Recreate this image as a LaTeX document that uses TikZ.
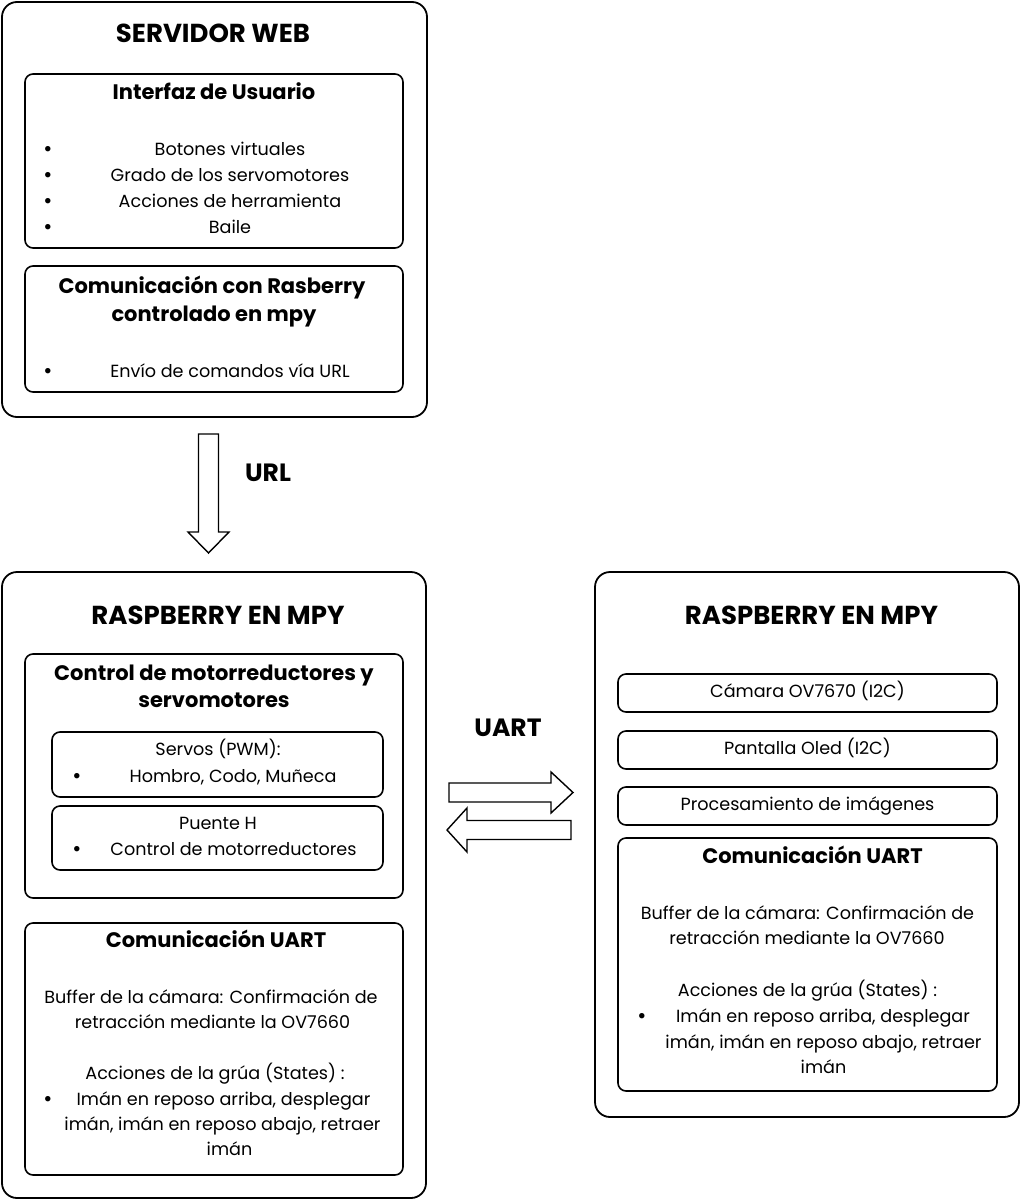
\documentclass[tikz,border=0pt]{standalone}
\usepackage{fontspec}
\setmainfont{Poppins}
\begin{document}
\begin{tikzpicture}[x=1pt,y=-1pt,
  outerbox/.style={draw, line width=1.8pt, rounded corners=15pt, inner sep=0pt},
  innerbox/.style={draw, line width=1.6pt, rounded corners=8pt, inner sep=0pt},
  bigtitle/.style={anchor=base, inner sep=0pt, font=\fontsize{26}{30}\selectfont\bfseries},
  subtitle/.style={anchor=base, inner sep=0pt, font=\fontsize{21}{24}\selectfont\bfseries},
  linklabel/.style={anchor=base, inner sep=0pt, font=\fontsize{25}{28}\selectfont\bfseries},
  body/.style={anchor=base, inner sep=0pt, font=\fontsize{17.6}{22}\selectfont},
  bul/.style={anchor=base, inner sep=0pt, font=\fontsize{22}{24}\selectfont},
  blockarrow/.style={draw, line width=1.4pt, fill=white, line join=miter}
]
\useasboundingbox (0,0) rectangle (1022,1200);
\fill[white] (0,0) rectangle (1022,1200);

% ---------- SERVIDOR WEB ----------
\node[outerbox, minimum width=425pt, minimum height=415pt] (web) at (214.5,209.5) {};
\node[bigtitle] (webT) at (213,42) {SERVIDOR WEB};
\node[innerbox, minimum width=378pt, minimum height=174pt] (ui) at (214,161) {};
\node[subtitle] (uiT) at (214,99) {Interfaz de Usuario};
\node[bul] (ub1) at (48,156) {•};
\node[bul] (ub2) at (48,182) {•};
\node[bul] (ub3) at (48,208) {•};
\node[bul] (ub4) at (48,234) {•};
\node[body] (u1) at (230,155) {Botones virtuales};
\node[body] (u2) at (230,181) {Grado de los servomotores};
\node[body] (u3) at (230,207) {Acciones de herramienta};
\node[body] (u4) at (230,233) {Baile};

\node[innerbox, minimum width=378pt, minimum height=126pt] (com) at (214,329) {};
\node[subtitle] (comT1) at (212,293) {Comunicación con Rasberry};
\node[subtitle] (comT2) at (214,321) {controlado en mpy};
\node[bul] (cb1) at (48,378) {•};
\node[body] (c1) at (230,377) {Envío de comandos vía URL};

% ---------- URL arrow ----------
\coordinate (urlA) at (208.5,434);
\coordinate (urlB) at (208.5,553);
\draw[blockarrow] (198.5,434) -- (218.5,434) -- (218.5,532) -- (229,532) -- (urlB) -- (188,532) -- (198.5,532) -- cycle;
\node[linklabel] (urlL) at (268,481) {URL};

% ---------- RASPBERRY left ----------
\node[outerbox, minimum width=424pt, minimum height=626pt] (rpL) at (214,885) {};
\node[bigtitle] (rpLT) at (218,624) {RASPBERRY EN MPY};

\node[innerbox, minimum width=378pt, minimum height=244pt] (ctrl) at (214,776) {};
\node[subtitle] (ctrlT1) at (214,680) {Control de motorreductores y};
\node[subtitle] (ctrlT2) at (214,707) {servomotores};

\node[innerbox, minimum width=331pt, minimum height=65pt] (servos) at (217.5,764.5) {};
\node[body] (s1) at (218,755) {Servos (PWM):};
\node[bul] (sb) at (77,783) {•};
\node[body] (s2) at (233,782) {Hombro, Codo, Muñeca};

\node[innerbox, minimum width=331pt, minimum height=64pt] (puente) at (217.5,838) {};
\node[body] (p1) at (218,829) {Puente H};
\node[bul] (pb) at (77,856) {•};
\node[body] (p2) at (233.5,855) {Control de motorreductores};

\node[innerbox, minimum width=378pt, minimum height=252pt] (uartL) at (214,1049) {};
\node[subtitle] (uLT) at (216,947) {Comunicación UART};
\node[body] (uL1) at (211,1003) {Buffer de la cámara: Confirmación de};
\node[body] (uL2) at (212.5,1028) {retracción mediante la OV7660};
\node[body] (uL3) at (215,1079) {Acciones de la grúa (States) :};
\node[bul] (uLb) at (48,1106) {•};
\node[body] (uL4) at (223.5,1105) {Imán en reposo arriba, desplegar};
\node[body] (uL5) at (222.5,1130) {imán, imán en reposo abajo, retraer};
\node[body] (uL6) at (229.5,1155) {imán};

% ---------- UART arrows ----------
\node[linklabel] (uartLbl) at (508,736) {UART};
\coordinate (rA) at (449,792.5);
\coordinate (rB) at (573,792.5);
\draw[blockarrow] (449,783) -- (551,783) -- (551,772) -- (rB) -- (551,813) -- (551,802) -- (449,802) -- cycle;
\coordinate (lA) at (571,830);
\coordinate (lB) at (447,830);
\draw[blockarrow] (571,820.5) -- (467,820.5) -- (467,808) -- (lB) -- (467,852) -- (467,839.5) -- (571,839.5) -- cycle;

% ---------- RASPBERRY right ----------
\node[outerbox, minimum width=424pt, minimum height=545pt] (rpR) at (807,844.5) {};
\node[bigtitle] (rpRT) at (811.5,624) {RASPBERRY EN MPY};
\node[innerbox, minimum width=379pt, minimum height=38pt] (cam) at (807.5,693) {};
\node[body] (camT) at (807.5,697) {Cámara OV7670 (I2C)};
\node[innerbox, minimum width=379pt, minimum height=38pt] (oled) at (807.5,750) {};
\node[body] (oledT) at (807.5,754) {Pantalla Oled (I2C)};
\node[innerbox, minimum width=379pt, minimum height=38pt] (proc) at (807.5,806) {};
\node[body] (procT) at (807.5,810) {Procesamiento de imágenes};

\node[innerbox, minimum width=379pt, minimum height=253pt] (uartR) at (807.5,964.5) {};
\node[subtitle] (uRT) at (812.5,863) {Comunicación UART};
\node[body] (uR1) at (807.5,919) {Buffer de la cámara: Confirmación de};
\node[body] (uR2) at (807,944) {retracción mediante la OV7660};
\node[body] (uR3) at (807.5,996) {Acciones de la grúa (States) :};
\node[bul] (uRb) at (642,1023) {•};
\node[body] (uR4) at (823,1022) {Imán en reposo arriba, desplegar};
\node[body] (uR5) at (823.5,1048) {imán, imán en reposo abajo, retraer};
\node[body] (uR6) at (823.5,1073) {imán};
\end{tikzpicture}
\end{document}
